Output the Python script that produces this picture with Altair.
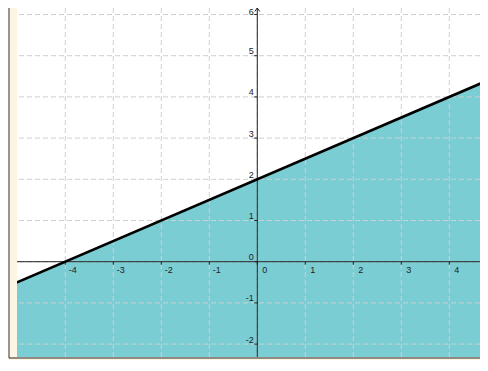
import altair as alt
import pandas as pd

# ---- data ----
X_MIN, X_MAX = -5.006, 4.640
Y_MIN, Y_MAX = -2.313, 6.158

line_x = [-5.5, 5.5]
line_y = [-0.75, 4.75]          # boundary line y = 0.5x + 2
shade_bottom = [-3.0, -3.0]     # region below the line is shaded

grid_x = [-4, -3, -2, -1, 0, 1, 2, 3, 4]
grid_y = [-2, -1, 0, 1, 2, 3, 4, 5, 6]
x_tick_labels = ["-4", "-3", "-2", "-1", "0", "1", "2", "3", "4"]
y_tick_labels = ["-2", "-1", "0", "1", "2", "3", "4", "5", "6"]

TEAL = "#7bcdd4"
CREAM = "#fdf5e4"
GRID = "#cfcfcf"
INK = "#222222"
FONT = "Liberation Sans"

W, H = 463, 349

xs = alt.Scale(domain=[X_MIN, X_MAX], nice=False, zero=False)
ys = alt.Scale(domain=[Y_MIN, Y_MAX], nice=False, zero=False)

line_df = pd.DataFrame({"x": line_x, "y": line_y, "b": shade_bottom})
gx_df = pd.DataFrame({"x": grid_x, "lab": x_tick_labels})
gy_df = pd.DataFrame({"y": grid_y, "lab": y_tick_labels})
zero_df = pd.DataFrame({"x": [0], "y": [0]})
top_df = pd.DataFrame({"x": [0], "y": [Y_MAX]})

X = lambda f: alt.X(f, type="quantitative", scale=xs, axis=None)
Y = lambda f: alt.Y(f, type="quantitative", scale=ys, axis=None)

area = alt.Chart(line_df).mark_area(color=TEAL, clip=True).encode(
    x=X("x"), y=Y("y"), y2="b"
)
vgrid = alt.Chart(gx_df).mark_rule(color=GRID, strokeDash=[5, 3], strokeWidth=1).encode(x=X("x"))
hgrid = alt.Chart(gy_df).mark_rule(color=GRID, strokeDash=[5, 3], strokeWidth=1).encode(y=Y("y"))

x_axis = alt.Chart(zero_df).mark_rule(color=INK, strokeWidth=1).encode(y=Y("y"))
y_axis = alt.Chart(zero_df).mark_rule(color=INK, strokeWidth=1).encode(x=X("x"))

x_ticks = alt.Chart(gx_df).mark_tick(orient="vertical", size=3, thickness=1, color=INK, yOffset=1.5, opacity=1).encode(
    x=X("x"), y=alt.Y("z:Q", scale=ys, axis=None)
).transform_calculate(z="0")
y_ticks = alt.Chart(gy_df).mark_tick(orient="horizontal", size=3, thickness=1, color=INK, xOffset=-1.5, opacity=1).encode(
    y=Y("y"), x=alt.X("z:Q", scale=xs, axis=None)
).transform_calculate(z="0")

x_labels = alt.Chart(gx_df).mark_text(
    align="center", baseline="middle", dx=7.5, dy=8.5, fontSize=9, font=FONT, color=INK
).encode(x=X("x"), y=alt.Y("z:Q", scale=ys, axis=None), text="lab:N").transform_calculate(z="0")
y_labels = alt.Chart(gy_df).transform_filter("datum.y < 6").mark_text(
    align="right", baseline="middle", dx=-3.5, dy=-4.5, fontSize=9, font=FONT, color=INK
).encode(y=Y("y"), x=alt.X("z:Q", scale=xs, axis=None), text="lab:N").transform_calculate(z="0")
y_label_top = alt.Chart(gy_df).transform_filter("datum.y >= 6").mark_text(
    align="right", baseline="middle", dx=-3.5, dy=-2.5, fontSize=9, font=FONT, color=INK
).encode(y=Y("y"), x=alt.X("z:Q", scale=xs, axis=None), text="lab:N").transform_calculate(z="0")

arrow = alt.Chart(top_df).mark_point(
    shape="M-1,1.4L0,0L1,1.4", filled=False, stroke=INK, strokeWidth=1, size=25, opacity=1
).encode(x=X("x"), y=Y("y"))

line = alt.Chart(line_df).mark_line(color="black", strokeWidth=2.6, clip=True).encode(
    x=X("x"), y=Y("y")
)

frame_left = alt.Chart(zero_df).mark_rule(color="#555555", strokeWidth=1.2).encode(
    x=alt.value(-8), y=alt.value(-10), y2=alt.value(H + 1)
)
frame_bottom = alt.Chart(zero_df).mark_rule(color=INK, strokeWidth=1.2).encode(
    x=alt.value(-8), x2=alt.value(W), y=alt.value(H + 1)
)

chart = alt.layer(
    area, vgrid, hgrid, x_axis, y_axis, x_ticks, y_ticks, x_labels, y_labels, y_label_top,
    arrow, line, frame_left, frame_bottom
).properties(
    width=W, height=H,
    autosize=alt.AutoSizeParams(type="none"),
    padding={"left": 9, "top": 0, "right": 0, "bottom": 3},
    background=CREAM,
).configure_view(fill="white", stroke=None)

chart.save("out.html", embed_options={"renderer": "svg", "actions": False})
